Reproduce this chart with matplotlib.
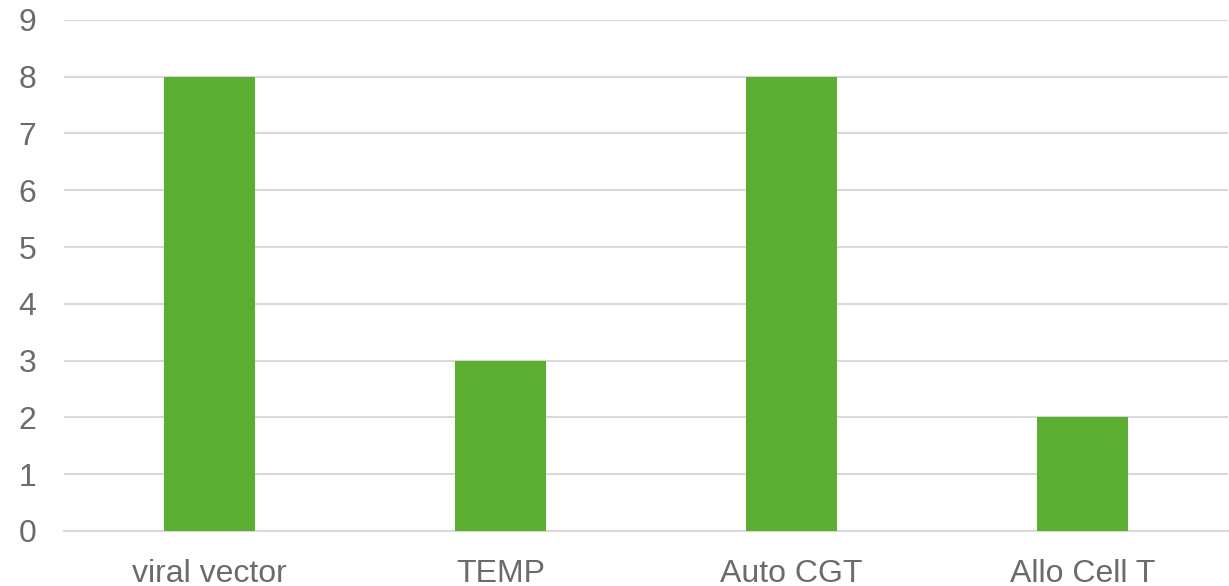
import matplotlib
matplotlib.use("Agg")
from matplotlib import pyplot as plt

plt.rcParams['font.family'] = ['Liberation Sans', 'DejaVu Sans']

categories = ['viral vector', 'TEMP', 'Auto CGT', 'Allo Cell T']
values = [8, 3, 8, 2]
yticks = list(range(0, 10))

fig = plt.figure(figsize=(12.29, 5.86), dpi=100)
ax = fig.add_axes([0.052, 0.094, 0.947, 0.872])

ax.bar(range(len(categories)), values, width=0.313, color='#5BAE31', zorder=3)

ax.set_xlim(-0.5, len(categories) - 0.5)
ax.set_ylim(0, 9)
ax.set_yticks(yticks)
ax.set_xticks(range(len(categories)))
ax.set_xticklabels(categories)

ax.grid(axis='y', color='#D9D9D9', linewidth=1.5, zorder=0)
for s in ['top', 'right', 'left']:
    ax.spines[s].set_visible(False)
ax.spines['bottom'].set_color('#D9D9D9')
ax.spines['bottom'].set_linewidth(1.5)

ax.tick_params(axis='y', length=0, pad=20, labelsize=23, labelcolor='#6B6B6B')
ax.tick_params(axis='x', length=0, pad=20, labelsize=23, labelcolor='#6B6B6B')

fig.savefig('out.png', dpi=100)
